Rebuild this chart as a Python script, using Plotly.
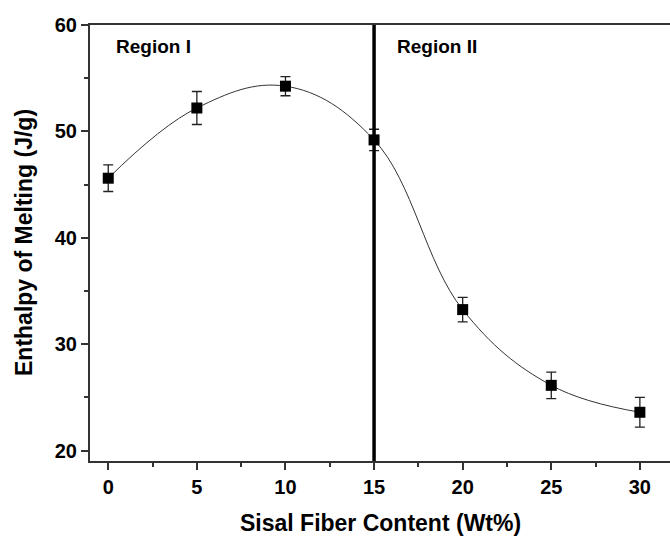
import plotly.graph_objects as go

fiber_content = [0, 5, 10, 15, 20, 25, 30]
enthalpy = [45.6, 52.2, 54.25, 49.2, 33.25, 26.13, 23.6]
enthalpy_err = [1.25, 1.55, 0.9, 1.0, 1.15, 1.25, 1.4]
region_boundary = 15
region_labels = ["Region I", "Region II"]
region_label_x = [0.35, 16.2]
region_label_y = [58.0, 58.0]
x_ticks = [0, 5, 10, 15, 20, 25, 30]
y_ticks = [20, 30, 40, 50, 60]
x_title = "Sisal Fiber Content (Wt%)"
y_title = "Enthalpy of Melting (J/g)"

FONT = "Liberation Sans, Arial, sans-serif"

fig = go.Figure()

# smooth curve
fig.add_trace(go.Scatter(
    x=fiber_content, y=enthalpy, mode="lines",
    line=dict(color="#333333", width=1, shape="spline", smoothing=1.1),
    hoverinfo="skip", showlegend=False))

# points with error bars
fig.add_trace(go.Scatter(
    x=fiber_content, y=enthalpy, mode="markers",
    marker=dict(symbol="square", size=11, color="black"),
    error_y=dict(type="data", array=enthalpy_err, visible=True,
                 color="#222222", thickness=1.3, width=5),
    showlegend=False))

fig.add_shape(type="line", xref="x", yref="paper",
              x0=region_boundary, x1=region_boundary, y0=0, y1=1,
              line=dict(color="black", width=3.5))

for t, xx, yy in zip(region_labels, region_label_x, region_label_y):
    fig.add_annotation(x=xx, y=yy, text="<b>%s</b>" % t, showarrow=False,
                       xanchor="left", yanchor="middle",
                       font=dict(family=FONT, size=19, color="black"))

# axis titles
fig.add_annotation(xref="paper", yref="paper", x=0.5, y=0, yshift=-62,
                   xanchor="center", yanchor="middle", showarrow=False,
                   text="<b>%s</b>" % x_title,
                   font=dict(family=FONT, size=23, color="black"))
fig.add_annotation(xref="paper", yref="paper", x=0, y=0.5, xshift=-66,
                   xanchor="center", yanchor="middle", showarrow=False,
                   textangle=-90, text="<b>%s</b>" % y_title,
                   font=dict(family=FONT, size=23, color="black"))

fig.update_layout(
    width=670, height=537,
    margin=dict(l=90, r=0, t=25, b=76, autoexpand=False),
    plot_bgcolor="white", paper_bgcolor="white",
    font=dict(family=FONT, color="black"),
)

fig.update_xaxes(
    range=[-1.03, 31.7], tickvals=x_ticks,
    ticktext=["<b>%d</b>" % v for v in x_ticks],
    ticks="outside", ticklen=7, tickwidth=1.5, tickcolor="#333333",
    minor=dict(ticks="outside", ticklen=4, tickwidth=1.5, tickcolor="#333333", dtick=2.5, tick0=0),
    showline=True, linecolor="#333333", linewidth=2, mirror=True,
    showgrid=False, zeroline=False, automargin=False,
    tickfont=dict(family=FONT, size=20, color="black"),
)

fig.update_yaxes(
    range=[19.02, 60], tickvals=y_ticks,
    ticktext=["<b>%d</b>" % v for v in y_ticks],
    ticks="outside", ticklen=7, tickwidth=1.5, tickcolor="#333333",
    minor=dict(ticks="outside", ticklen=4, tickwidth=1.5, tickcolor="#333333", dtick=5, tick0=0),
    showline=True, linecolor="#333333", linewidth=2, mirror=False,
    showgrid=False, zeroline=False, automargin=False,
    tickfont=dict(family=FONT, size=20, color="black"),
)

fig.write_html("out.html", config={"displayModeBar": False},
               post_script="document.body.style.margin='0';document.body.style.overflow='hidden';")
